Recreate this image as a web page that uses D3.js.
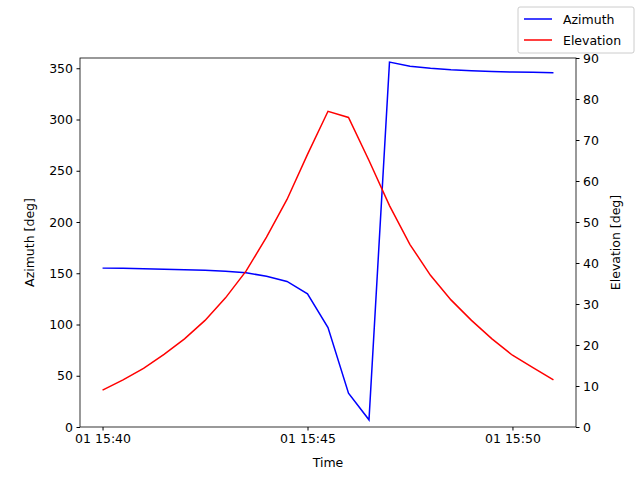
<!DOCTYPE html>
<html><head><meta charset="utf-8">
<script src="https://d3js.org/d3.v7.min.js"></script>
<style>body{margin:0;background:#fff}text{font-family:"DejaVu Sans",sans-serif}</style>
</head><body><svg id="c" width="640" height="480"></svg>
<script>
// sampled every 30 s from 15:40
const startMinute = 40;
const azimuth = [155, 154.8, 154.5, 154, 153.5, 153, 152, 150.5, 147, 142, 130, 97, 33, 7,
  356, 352, 350, 348.5, 347.5, 346.8, 346.3, 346, 345.5];
const elevation = [9, 11.5, 14.3, 17.7, 21.5, 26, 31.5, 38, 46.3, 55.5, 66.5, 77, 75.5, 65,
  54, 44.5, 37, 31, 26, 21.5, 17.5, 14.5, 11.5];
const timeTicks = [40, 45, 50];
const seriesNames = ["Azimuth", "Elevation"];
const colors = ["#0000ff", "#ff0000"];

const svg = d3.select("#c");
const L = 80, R = 576, T = 58, B = 427;
const FS = 12.5;
const mins = azimuth.map((d, i) => startMinute + i * 0.5);

const x = d3.scaleLinear().domain([39.45, 51.55]).range([L, R]);
const yL = d3.scaleLinear().domain([0, 360]).range([B, T]);
const yR = d3.scaleLinear().domain([0, 90]).range([B, T]);

const line = (ys, arr) => d3.line().x((d, i) => x(mins[i])).y(d => ys(d))(arr);
svg.append("path").attr("d", line(yL, azimuth)).attr("fill", "none").attr("stroke", colors[0]).attr("stroke-width", 1.5);
svg.append("path").attr("d", line(yR, elevation)).attr("fill", "none").attr("stroke", colors[1]).attr("stroke-width", 1.5);

svg.append("rect").attr("x", L).attr("y", T).attr("width", R - L).attr("height", B - T)
  .attr("fill", "none").attr("stroke", "#000").attr("stroke-width", 0.8);

const style = g => { g.select(".domain").remove(); g.selectAll("text").attr("font-size", FS).attr("fill", "#000"); g.selectAll("line").attr("stroke", "#000"); };
svg.append("g").attr("transform", `translate(0,${B})`)
  .call(d3.axisBottom(x).tickValues(timeTicks).tickSize(3.5).tickPadding(3.5).tickFormat(d => "01 15:" + d)).call(style);
svg.append("g").attr("transform", `translate(${L},0)`)
  .call(d3.axisLeft(yL).tickValues(d3.range(0, 351, 50)).tickSize(3.5).tickPadding(3.5)).call(style);
svg.append("g").attr("transform", `translate(${R},0)`)
  .call(d3.axisRight(yR).tickValues(d3.range(0, 91, 10)).tickSize(3.5).tickPadding(3.5)).call(style);

svg.append("text").attr("x", (L + R) / 2).attr("y", 467).attr("text-anchor", "middle").attr("font-size", FS).text("Time");
svg.append("text").attr("transform", `translate(34,${(T + B) / 2}) rotate(-90)`).attr("text-anchor", "middle").attr("font-size", FS).text("Azimuth [deg]");
svg.append("text").attr("transform", `translate(620,${(T + B) / 2}) rotate(-90)`).attr("text-anchor", "middle").attr("font-size", FS).text("Elevation [deg]");

const lg = svg.append("g").attr("transform", "translate(518,7)");
lg.append("rect").attr("width", 116).attr("height", 46).attr("rx", 2).attr("fill", "#fff").attr("stroke", "#ccc");
seriesNames.forEach((n, i) => {
  lg.append("line").attr("x1", 6).attr("x2", 34).attr("y1", 12 + i * 21).attr("y2", 12 + i * 21).attr("stroke", colors[i]).attr("stroke-width", 1.5);
  lg.append("text").attr("x", 45).attr("y", 16.5 + i * 21).attr("font-size", FS).text(n);
});
</script></body></html>
